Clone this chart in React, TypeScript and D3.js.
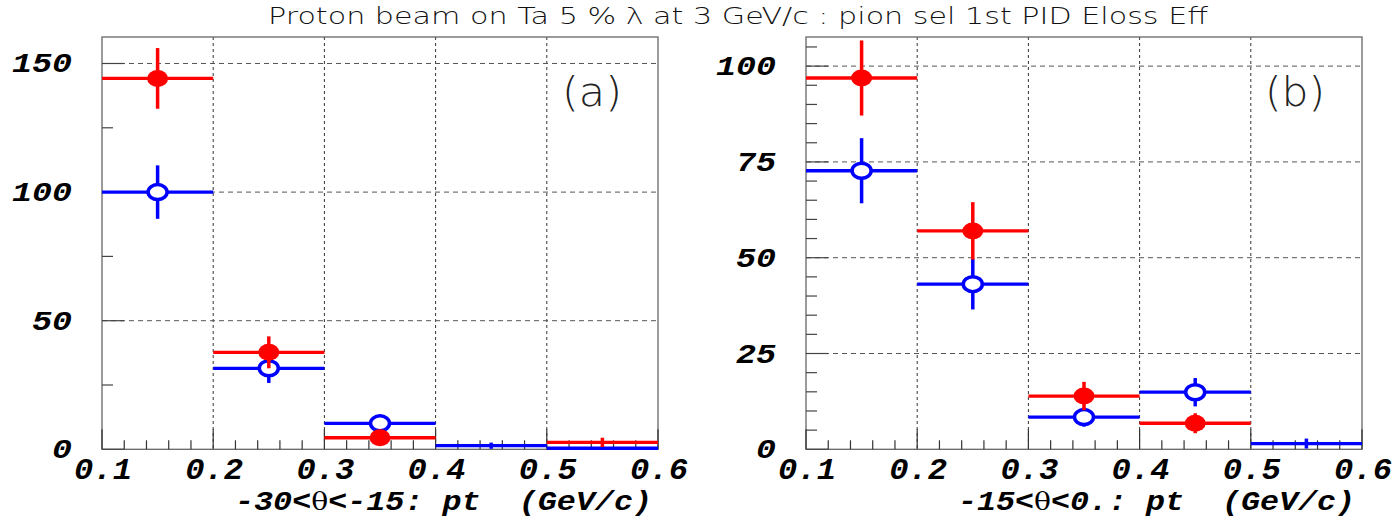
import React from "react";
import * as d3 from "d3";

// ---- data ----
const binLow = [0.1, 0.2, 0.3, 0.4, 0.5];
const binWidth = 0.1;
const xTicks = [0.1, 0.2, 0.3, 0.4, 0.5, 0.6];

const aRed = [144.2, 37.7, 4.5, null, 2.7];
const aRedErr = [11.8, 6.2, 2.5, null, 1.8];
const aBlue = [100.0, 31.5, 10.1, 1.4, 0.4];
const aBlueErr = [10.4, 5.7, 2.8, 1.2, 0.4];

const bRed = [96.9, 57.0, 13.9, 6.8, null];
const bRedErr = [9.8, 7.5, 3.7, 2.6, null];
const bBlue = [72.7, 43.1, 8.4, 14.9, 1.5];
const bBlueErr = [8.5, 6.6, 2.5, 3.7, 1.3];

const aYMajor = [0, 50, 100, 150];
const bYMajor = [0, 25, 50, 75, 100];

const title = "Proton beam on Ta 5 % \u03bb at 3 GeV/c : pion sel 1st PID Eloss Eff";

type Panel = {
  x0: number; x1: number; yMax: number; yMinorStep: number; yMajor: number[];
  red: (number | null)[]; redErr: (number | null)[];
  blue: (number | null)[]; blueErr: (number | null)[];
  label: string; labelX: number;
  axisPre: string; axisPost: string; axisX0: number; axisX1: number;
};

const panels: Panel[] = [
  { x0: 102, x1: 658, yMax: 160.3, yMinorStep: 25, yMajor: aYMajor,
    red: aRed, redErr: aRedErr, blue: aBlue, blueErr: aBlueErr,
    label: "(a)", labelX: 562, axisPre: "-30<", axisPost: "<-15: pt\u00a0\u00a0(GeV/c)", axisX0: 235, axisX1: 652 },
  { x0: 806, x1: 1362, yMax: 107.6, yMinorStep: 5, yMajor: bYMajor,
    red: bRed, redErr: bRedErr, blue: bBlue, blueErr: bBlueErr,
    label: "(b)", labelX: 1265, axisPre: "-15<", axisPost: "<0.: pt\u00a0\u00a0(GeV/c)", axisX0: 958, axisX1: 1355 },
];

const yTop = 37;
const yBot = 449.3;
const monoFont = "'Liberation Mono', 'DejaVu Sans Mono', monospace";

function PanelView({ p }: { p: Panel }) {
  const x = d3.scaleLinear().domain([0.1, 0.6]).range([p.x0, p.x1]);
  const y = d3.scaleLinear().domain([0, p.yMax]).range([yBot, yTop]);
  const xMinor = d3.range(0.1, 0.6001, 0.02);
  const yMinor = d3.range(0, p.yMax, p.yMinorStep);

  const series = (vals: (number | null)[], errs: (number | null)[], color: string, filled: boolean) =>
    binLow.map((lo, i) => {
      const v = vals[i];
      if (v === null) return null;
      const e = errs[i] ?? 0;
      const cx = x(lo + binWidth / 2);
      return (
        <g key={color + i}>
          <line x1={x(lo)} x2={x(lo + binWidth)} y1={y(v)} y2={y(v)} stroke={color} strokeWidth={3.3} />
          <line x1={cx} x2={cx} y1={y(Math.max(0, v - e))} y2={y(v + e)} stroke={color} strokeWidth={3.5} />
          {v > 3 ? (
            filled ? (
              <ellipse cx={cx} cy={y(v)} rx={10.5} ry={8.5} fill={color} />
            ) : (
              <ellipse cx={cx} cy={y(v)} rx={9.5} ry={7.5} fill="#fff" stroke={color} strokeWidth={3.5} />
            )
          ) : null}
        </g>
      );
    });

  const labelW = (s: string) => (s.length === 1 ? 20 : s.length === 2 ? 40 : 60);

  return (
    <g>
      {/* grid */}
      {xTicks.slice(1, -1).map((t) => (
        <line key={"gx" + t} x1={x(t)} x2={x(t)} y1={yTop} y2={yBot} stroke="#333" strokeWidth={1} strokeDasharray="3,3" />
      ))}
      {p.yMajor.filter((t) => t > 0).map((t) => (
        <line key={"gy" + t} x1={p.x0} x2={p.x1} y1={y(t)} y2={y(t)} stroke="#555" strokeWidth={1} strokeDasharray="5,4" />
      ))}
      {/* frame */}
      <rect x={p.x0} y={yTop} width={p.x1 - p.x0} height={yBot - yTop} fill="none" stroke="#666" strokeWidth={1.3} />
      {/* x ticks */}
      {xMinor.map((t, i) => (
        <line key={"xt" + i} x1={x(t)} x2={x(t)} y1={yBot} y2={yBot - (i % 5 === 0 ? 20 : 9)} stroke="#333" strokeWidth={1.2} />
      ))}
      {/* y ticks */}
      {yMinor.map((t, i) => (
        <line key={"yt" + i} x1={p.x0} x2={p.x0 + (p.yMajor.includes(t) ? 22 : 11)} y1={y(t)} y2={y(t)} stroke="#444" strokeWidth={1.2} />
      ))}
      {/* data */}
      {series(p.blue, p.blueErr, "#0000ff", false)}
      {series(p.red, p.redErr, "#ff0000", true)}
      {/* tick labels */}
      {xTicks.map((t) => (
        <text key={"xl" + t} x={x(t) - 28} y={479} textLength={58} lengthAdjust="spacingAndGlyphs" fontFamily={monoFont} fontWeight="bold" fontStyle="italic" fontSize={29} fill="#000">
          {d3.format(".1f")(t)}
        </text>
      ))}
      {p.yMajor.map((t) => {
        const s = String(t);
        const w = labelW(s);
        return (
          <text key={"yl" + t} x={p.x0 - 30 - w} y={y(t) + 9} textLength={w} lengthAdjust="spacingAndGlyphs" fontFamily={monoFont} fontWeight="bold" fontStyle="italic" fontSize={28} fill="#000">
            {s}
          </text>
        );
      })}
      {/* axis title */}
      <text x={p.axisX0} y={510} textLength={p.axisX1 - p.axisX0} lengthAdjust="spacingAndGlyphs" fontFamily={monoFont} fontWeight="bold" fontStyle="italic" fontSize={27} fill="#000">
        {p.axisPre}
        <tspan fontFamily="'DejaVu Serif', serif" fontWeight="normal" fontStyle="normal" fontSize={24}>{"\u03b8"}</tspan>
        {p.axisPost}
      </text>
      {/* panel label */}
      <text x={p.labelX} y={106} textLength={60} lengthAdjust="spacingAndGlyphs" fontFamily="'DejaVu Sans', sans-serif" fontWeight={200} fontSize={40} fill="#222">
        {p.label}
      </text>
    </g>
  );
}

export default function App() {
  return (
    <svg width={1398} height={524} style={{ position: "absolute", left: 0, top: 0, background: "#fff" }}>
      <rect x={0} y={0} width={1398} height={524} fill="#fff" />
      <text x={268} y={24} textLength={940} lengthAdjust="spacingAndGlyphs" fontFamily="'DejaVu Sans', sans-serif" fontWeight={200} fontSize={23} fill="#111">
        {title}
      </text>
      {panels.map((p, i) => (
        <PanelView key={i} p={p} />
      ))}
    </svg>
  );
}
